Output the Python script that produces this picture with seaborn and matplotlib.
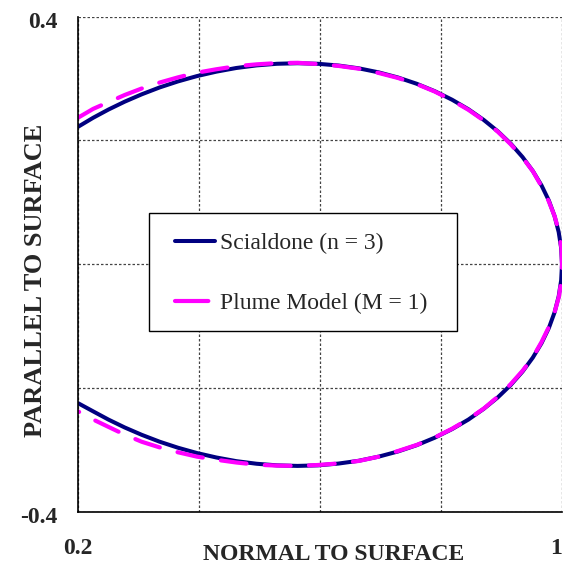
import matplotlib
matplotlib.use("Agg")
import matplotlib.pyplot as plt
import matplotlib.transforms as mtransforms
from matplotlib.patches import Rectangle
from matplotlib.lines import Line2D
import seaborn as sns
import pandas as pd

# ---- data ----
scialdone_x = [0.2000, 0.2245, 0.2500, 0.2768, 0.3050, 0.3343, 0.3648, 0.3962, 0.4284, 0.4613,
               0.4948, 0.5285, 0.5625, 0.5965, 0.6303, 0.6637, 0.6965, 0.7286, 0.7597, 0.7896,
               0.8182, 0.8452, 0.8705, 0.8940, 0.9154, 0.9347, 0.9517, 0.9662, 0.9783, 0.9877,
               0.9945, 0.9986, 1.0000,
               0.9986, 0.9945, 0.9877, 0.9783, 0.9662, 0.9517, 0.9347, 0.9154, 0.8940, 0.8705,
               0.8452, 0.8182, 0.7896, 0.7597, 0.7286, 0.6965, 0.6637, 0.6303, 0.5965, 0.5625,
               0.5285, 0.4948, 0.4613, 0.4284, 0.3962, 0.3648, 0.3343, 0.3050, 0.2768, 0.2500,
               0.2245, 0.2000]
scialdone_y = [0.2223, 0.2366, 0.2500, 0.2627, 0.2746, 0.2856, 0.2954, 0.3040, 0.3112, 0.3171,
               0.3213, 0.3239, 0.3248, 0.3239, 0.3211, 0.3166, 0.3101, 0.3018, 0.2916, 0.2796,
               0.2658, 0.2504, 0.2332, 0.2146, 0.1946, 0.1732, 0.1507, 0.1272, 0.1028, 0.0777,
               0.0521, 0.0262, 0.0000,
               -0.0262, -0.0521, -0.0778, -0.1030, -0.1275, -0.1510, -0.1736, -0.1950, -0.2151, -0.2338,
               -0.2511, -0.2665, -0.2804, -0.2925, -0.3027, -0.3111, -0.3177, -0.3222, -0.3251, -0.3260,
               -0.3251, -0.3225, -0.3183, -0.3124, -0.3052, -0.2966, -0.2868, -0.2758, -0.2639, -0.2512,
               -0.2378, -0.2248]

plume_x = [0.2000, 0.2245, 0.2500, 0.2768, 0.3050, 0.3343, 0.3650, 0.3962, 0.4280, 0.4613,
           0.4950, 0.5285, 0.5630, 0.5965, 0.6300, 0.6637, 0.6970, 0.7286, 0.7600, 0.7896,
           0.8180, 0.8452, 0.8710, 0.8940, 0.9150, 0.9350, 0.9520, 0.9660, 0.9780, 0.9880,
           0.9950, 0.9990, 1.0000,
           0.9990, 0.9950, 0.9880, 0.9780, 0.9660, 0.9520, 0.9350, 0.9150, 0.8940, 0.8710,
           0.8452, 0.8180, 0.7896, 0.7600, 0.7286, 0.6970, 0.6637, 0.6300, 0.5965, 0.5630,
           0.5285, 0.4950, 0.4613, 0.4280, 0.3962, 0.3650, 0.3343, 0.3050, 0.2768, 0.2500,
           0.2245, 0.2000]
plume_y = [0.2370, 0.2510, 0.2620, 0.2735, 0.2840, 0.2935, 0.3020, 0.3095, 0.3150, 0.3200,
           0.3230, 0.3250, 0.3255, 0.3235, 0.3205, 0.3160, 0.3090, 0.3010, 0.2910, 0.2790,
           0.2650, 0.2495, 0.2320, 0.2140, 0.1940, 0.1720, 0.1500, 0.1260, 0.1020, 0.0770,
           0.0520, 0.0260, 0.0000,
           -0.0260, -0.0520, -0.0770, -0.1020, -0.1260, -0.1500, -0.1720, -0.1940, -0.2140, -0.2330,
           -0.2505, -0.2660, -0.2800, -0.2920, -0.3020, -0.3110, -0.3180, -0.3220, -0.3245, -0.3260,
           -0.3255, -0.3240, -0.3205, -0.3160, -0.3110, -0.3040, -0.2960, -0.2870, -0.2755, -0.2630,
           -0.2510, -0.2380]

series_labels = ["Scialdone (n = 3)", "Plume Model (M = 1)"]
x_ticks = [0.2, 0.4, 0.6, 0.8, 1.0]
x_tick_labels = ["0.2", "", "", "", "1"]
y_ticks = [-0.4, -0.2, 0.0, 0.2, 0.4]
y_tick_labels = ["-0.4", "", "", "", "0.4"]
x_title = "NORMAL TO SURFACE"
y_title = "PARALLEL TO SURFACE"

sns.set_style("white")
plt.rcParams["font.family"] = ["Liberation Serif", "DejaVu Serif"]

W, H = 563, 568
fig = plt.figure(figsize=(W / 100, H / 100), dpi=100)
L, R, T, B = 78.3, 562.0, 16.7, 511.7
ax = fig.add_axes([L / W, 1 - B / H, (R - L) / W, (B - T) / H])

df_s = pd.DataFrame({"x": scialdone_x, "y": scialdone_y})
df_p = pd.DataFrame({"x": plume_x, "y": plume_y})

navy = "#000080"
magenta = "#FF00FF"
sns.lineplot(data=df_s, x="x", y="y", sort=False, estimator=None, ax=ax,
             color=navy, linewidth=2.9, zorder=3, legend=False,
             solid_joinstyle="round")
sns.lineplot(data=df_p, x="x", y="y", sort=False, estimator=None, ax=ax,
             color=magenta, linewidth=3.0, zorder=4, legend=False,
             linestyle=(0, (6.2, 4.4)), dash_capstyle="round", dash_joinstyle="round")

ax.set_xlim(0.2, 1.0)
ax.set_ylim(-0.4, 0.4)
ax.set_xticks(x_ticks)
ax.set_xticklabels(x_tick_labels)
ax.set_yticks(y_ticks)
ax.set_yticklabels(y_tick_labels)
ax.set_xlabel("")
ax.set_ylabel("")

ax.grid(True, color="#444444", linestyle=(0, (2.0, 1.6)), linewidth=0.9, zorder=1)
ax.set_axisbelow(True)
for s in ["top", "right"]:
    ax.spines[s].set_visible(False)
for s in ["left", "bottom"]:
    ax.spines[s].set_visible(True)
    ax.spines[s].set_color("black")
    ax.spines[s].set_linewidth(1.2)
    ax.spines[s].set_zorder(5)

ax.tick_params(axis="x", length=0, pad=19, labelsize=17)
ax.tick_params(axis="y", direction="in", length=4, width=1, pad=15, labelsize=17)
for lab in ax.get_xticklabels() + ax.get_yticklabels():
    lab.set_fontweight("bold")
ax.get_xticklabels()[-1].set_horizontalalignment("right")
for lab in ax.get_yticklabels():
    lab.set_transform(lab.get_transform()
                      + mtransforms.ScaledTranslation(0, -3 / 100, fig.dpi_scale_trans))

fig.text(334 / W, 1 - 555 / H, x_title, ha="center", va="center",
         fontsize=17, fontweight="bold")
fig.text(36 / W, 1 - 280 / H, y_title, ha="center", va="center",
         rotation=90, fontsize=19, fontweight="bold")

# legend box
def ax_pt(px, py):
    return ((px - L) / (R - L), (B - py) / (B - T))

x0, y0 = ax_pt(149, 331)
x1, y1 = ax_pt(457, 213)
ax.add_patch(Rectangle((x0, y0), x1 - x0, y1 - y0, transform=ax.transAxes,
                       facecolor="white", edgecolor="black", linewidth=1.0,
                       zorder=6))

h_s = Line2D([], [], color=navy, linewidth=2.9)
h_p = Line2D([], [], color=magenta, linewidth=3.0, linestyle=(0, (8.0, 20.0)),
             dash_capstyle="round")
cx, cy = ax_pt(175, 273.5)
leg = ax.legend([h_s, h_p], series_labels, loc="center left", bbox_to_anchor=(cx, cy),
                frameon=False, fontsize=17, handlelength=1.7, handletextpad=0.2,
                labelspacing=1.62, borderpad=0, borderaxespad=0)
leg.set_zorder(7)

fig.savefig("out.png", dpi=100)
